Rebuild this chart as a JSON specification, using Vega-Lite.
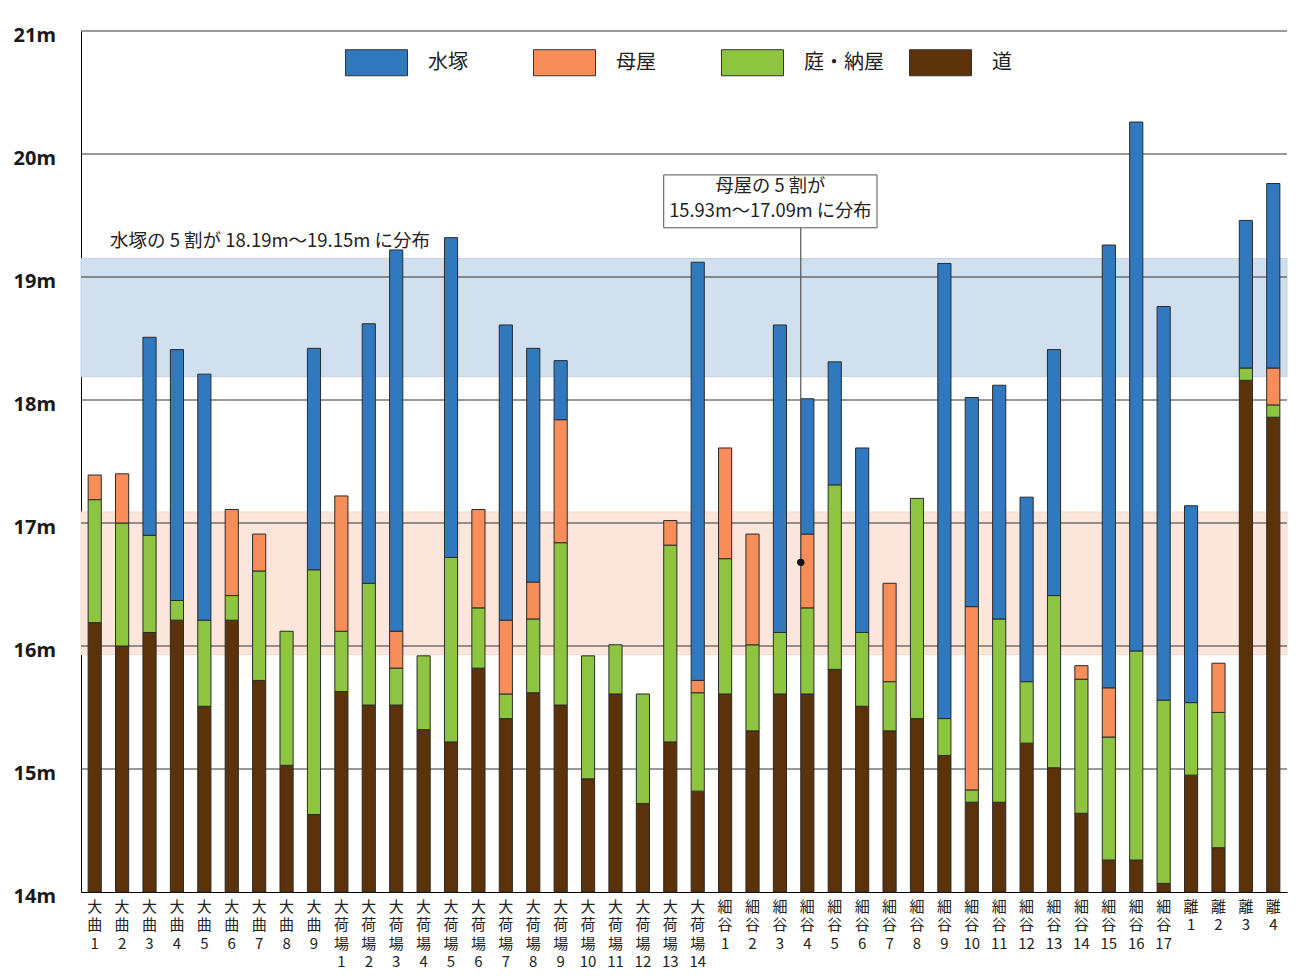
{
  "$schema": "https://vega.github.io/schema/vega-lite/v6.json",
  "width": 1206,
  "height": 861,
  "autosize": {"type": "none"},
  "padding": {"left": 81, "top": 31, "right": 10, "bottom": 84},
  "background": "white",
  "config": {"view": {"stroke": null}, "font": "Noto Sans CJK JP"},
  "datasets": {
    "segments": [
      {"n": "大\n曲\n1", "p": "道", "lo": 14, "hi": 16.19},
      {"n": "大\n曲\n1", "p": "庭・納屋", "lo": 16.19, "hi": 17.19},
      {"n": "大\n曲\n1", "p": "母屋", "lo": 17.19, "hi": 17.39},
      {"n": "大\n曲\n2", "p": "道", "lo": 14, "hi": 16.0},
      {"n": "大\n曲\n2", "p": "庭・納屋", "lo": 16.0, "hi": 17.0},
      {"n": "大\n曲\n2", "p": "母屋", "lo": 17.0, "hi": 17.4},
      {"n": "大\n曲\n3", "p": "道", "lo": 14, "hi": 16.11},
      {"n": "大\n曲\n3", "p": "庭・納屋", "lo": 16.11, "hi": 16.9},
      {"n": "大\n曲\n3", "p": "水塚", "lo": 16.9, "hi": 18.51},
      {"n": "大\n曲\n4", "p": "道", "lo": 14, "hi": 16.21},
      {"n": "大\n曲\n4", "p": "庭・納屋", "lo": 16.21, "hi": 16.37},
      {"n": "大\n曲\n4", "p": "水塚", "lo": 16.37, "hi": 18.41},
      {"n": "大\n曲\n5", "p": "道", "lo": 14, "hi": 15.51},
      {"n": "大\n曲\n5", "p": "庭・納屋", "lo": 15.51, "hi": 16.21},
      {"n": "大\n曲\n5", "p": "水塚", "lo": 16.21, "hi": 18.21},
      {"n": "大\n曲\n6", "p": "道", "lo": 14, "hi": 16.21},
      {"n": "大\n曲\n6", "p": "庭・納屋", "lo": 16.21, "hi": 16.41},
      {"n": "大\n曲\n6", "p": "母屋", "lo": 16.41, "hi": 17.11},
      {"n": "大\n曲\n7", "p": "道", "lo": 14, "hi": 15.72},
      {"n": "大\n曲\n7", "p": "庭・納屋", "lo": 15.72, "hi": 16.61},
      {"n": "大\n曲\n7", "p": "母屋", "lo": 16.61, "hi": 16.91},
      {"n": "大\n曲\n8", "p": "道", "lo": 14, "hi": 15.03},
      {"n": "大\n曲\n8", "p": "庭・納屋", "lo": 15.03, "hi": 16.12},
      {"n": "大\n曲\n9", "p": "道", "lo": 14, "hi": 14.63},
      {"n": "大\n曲\n9", "p": "庭・納屋", "lo": 14.63, "hi": 16.62},
      {"n": "大\n曲\n9", "p": "水塚", "lo": 16.62, "hi": 18.42},
      {"n": "大\n荷\n場\n1", "p": "道", "lo": 14, "hi": 15.63},
      {"n": "大\n荷\n場\n1", "p": "庭・納屋", "lo": 15.63, "hi": 16.12},
      {"n": "大\n荷\n場\n1", "p": "母屋", "lo": 16.12, "hi": 17.22},
      {"n": "大\n荷\n場\n2", "p": "道", "lo": 14, "hi": 15.52},
      {"n": "大\n荷\n場\n2", "p": "庭・納屋", "lo": 15.52, "hi": 16.51},
      {"n": "大\n荷\n場\n2", "p": "水塚", "lo": 16.51, "hi": 18.62},
      {"n": "大\n荷\n場\n3", "p": "道", "lo": 14, "hi": 15.52},
      {"n": "大\n荷\n場\n3", "p": "庭・納屋", "lo": 15.52, "hi": 15.82},
      {"n": "大\n荷\n場\n3", "p": "母屋", "lo": 15.82, "hi": 16.12},
      {"n": "大\n荷\n場\n3", "p": "水塚", "lo": 16.12, "hi": 19.22},
      {"n": "大\n荷\n場\n4", "p": "道", "lo": 14, "hi": 15.32},
      {"n": "大\n荷\n場\n4", "p": "庭・納屋", "lo": 15.32, "hi": 15.92},
      {"n": "大\n荷\n場\n5", "p": "道", "lo": 14, "hi": 15.22},
      {"n": "大\n荷\n場\n5", "p": "庭・納屋", "lo": 15.22, "hi": 16.72},
      {"n": "大\n荷\n場\n5", "p": "水塚", "lo": 16.72, "hi": 19.32},
      {"n": "大\n荷\n場\n6", "p": "道", "lo": 14, "hi": 15.82},
      {"n": "大\n荷\n場\n6", "p": "庭・納屋", "lo": 15.82, "hi": 16.31},
      {"n": "大\n荷\n場\n6", "p": "母屋", "lo": 16.31, "hi": 17.11},
      {"n": "大\n荷\n場\n7", "p": "道", "lo": 14, "hi": 15.41},
      {"n": "大\n荷\n場\n7", "p": "庭・納屋", "lo": 15.41, "hi": 15.61},
      {"n": "大\n荷\n場\n7", "p": "母屋", "lo": 15.61, "hi": 16.21},
      {"n": "大\n荷\n場\n7", "p": "水塚", "lo": 16.21, "hi": 18.61},
      {"n": "大\n荷\n場\n8", "p": "道", "lo": 14, "hi": 15.62},
      {"n": "大\n荷\n場\n8", "p": "庭・納屋", "lo": 15.62, "hi": 16.22},
      {"n": "大\n荷\n場\n8", "p": "母屋", "lo": 16.22, "hi": 16.52},
      {"n": "大\n荷\n場\n8", "p": "水塚", "lo": 16.52, "hi": 18.42},
      {"n": "大\n荷\n場\n9", "p": "道", "lo": 14, "hi": 15.52},
      {"n": "大\n荷\n場\n9", "p": "庭・納屋", "lo": 15.52, "hi": 16.84},
      {"n": "大\n荷\n場\n9", "p": "母屋", "lo": 16.84, "hi": 17.84},
      {"n": "大\n荷\n場\n9", "p": "水塚", "lo": 17.84, "hi": 18.32},
      {"n": "大\n荷\n場\n10", "p": "道", "lo": 14, "hi": 14.92},
      {"n": "大\n荷\n場\n10", "p": "庭・納屋", "lo": 14.92, "hi": 15.92},
      {"n": "大\n荷\n場\n11", "p": "道", "lo": 14, "hi": 15.61},
      {"n": "大\n荷\n場\n11", "p": "庭・納屋", "lo": 15.61, "hi": 16.01},
      {"n": "大\n荷\n場\n12", "p": "道", "lo": 14, "hi": 14.72},
      {"n": "大\n荷\n場\n12", "p": "庭・納屋", "lo": 14.72, "hi": 15.61},
      {"n": "大\n荷\n場\n13", "p": "道", "lo": 14, "hi": 15.22},
      {"n": "大\n荷\n場\n13", "p": "庭・納屋", "lo": 15.22, "hi": 16.82},
      {"n": "大\n荷\n場\n13", "p": "母屋", "lo": 16.82, "hi": 17.02},
      {"n": "大\n荷\n場\n14", "p": "道", "lo": 14, "hi": 14.82},
      {"n": "大\n荷\n場\n14", "p": "庭・納屋", "lo": 14.82, "hi": 15.62},
      {"n": "大\n荷\n場\n14", "p": "母屋", "lo": 15.62, "hi": 15.72},
      {"n": "大\n荷\n場\n14", "p": "水塚", "lo": 15.72, "hi": 19.12},
      {"n": "細\n谷\n1", "p": "道", "lo": 14, "hi": 15.61},
      {"n": "細\n谷\n1", "p": "庭・納屋", "lo": 15.61, "hi": 16.71},
      {"n": "細\n谷\n1", "p": "母屋", "lo": 16.71, "hi": 17.61},
      {"n": "細\n谷\n2", "p": "道", "lo": 14, "hi": 15.31},
      {"n": "細\n谷\n2", "p": "庭・納屋", "lo": 15.31, "hi": 16.01},
      {"n": "細\n谷\n2", "p": "母屋", "lo": 16.01, "hi": 16.91},
      {"n": "細\n谷\n3", "p": "道", "lo": 14, "hi": 15.61},
      {"n": "細\n谷\n3", "p": "庭・納屋", "lo": 15.61, "hi": 16.11},
      {"n": "細\n谷\n3", "p": "水塚", "lo": 16.11, "hi": 18.61},
      {"n": "細\n谷\n4", "p": "道", "lo": 14, "hi": 15.61},
      {"n": "細\n谷\n4", "p": "庭・納屋", "lo": 15.61, "hi": 16.31},
      {"n": "細\n谷\n4", "p": "母屋", "lo": 16.31, "hi": 16.91},
      {"n": "細\n谷\n4", "p": "水塚", "lo": 16.91, "hi": 18.01},
      {"n": "細\n谷\n5", "p": "道", "lo": 14, "hi": 15.81},
      {"n": "細\n谷\n5", "p": "庭・納屋", "lo": 15.81, "hi": 17.31},
      {"n": "細\n谷\n5", "p": "水塚", "lo": 17.31, "hi": 18.31},
      {"n": "細\n谷\n6", "p": "道", "lo": 14, "hi": 15.51},
      {"n": "細\n谷\n6", "p": "庭・納屋", "lo": 15.51, "hi": 16.11},
      {"n": "細\n谷\n6", "p": "水塚", "lo": 16.11, "hi": 17.61},
      {"n": "細\n谷\n7", "p": "道", "lo": 14, "hi": 15.31},
      {"n": "細\n谷\n7", "p": "庭・納屋", "lo": 15.31, "hi": 15.71},
      {"n": "細\n谷\n7", "p": "母屋", "lo": 15.71, "hi": 16.51},
      {"n": "細\n谷\n8", "p": "道", "lo": 14, "hi": 15.41},
      {"n": "細\n谷\n8", "p": "庭・納屋", "lo": 15.41, "hi": 17.2},
      {"n": "細\n谷\n9", "p": "道", "lo": 14, "hi": 15.11},
      {"n": "細\n谷\n9", "p": "庭・納屋", "lo": 15.11, "hi": 15.41},
      {"n": "細\n谷\n9", "p": "水塚", "lo": 15.41, "hi": 19.11},
      {"n": "細\n谷\n10", "p": "道", "lo": 14, "hi": 14.73},
      {"n": "細\n谷\n10", "p": "庭・納屋", "lo": 14.73, "hi": 14.83},
      {"n": "細\n谷\n10", "p": "母屋", "lo": 14.83, "hi": 16.32},
      {"n": "細\n谷\n10", "p": "水塚", "lo": 16.32, "hi": 18.02},
      {"n": "細\n谷\n11", "p": "道", "lo": 14, "hi": 14.73},
      {"n": "細\n谷\n11", "p": "庭・納屋", "lo": 14.73, "hi": 16.22},
      {"n": "細\n谷\n11", "p": "水塚", "lo": 16.22, "hi": 18.12},
      {"n": "細\n谷\n12", "p": "道", "lo": 14, "hi": 15.21},
      {"n": "細\n谷\n12", "p": "庭・納屋", "lo": 15.21, "hi": 15.71},
      {"n": "細\n谷\n12", "p": "水塚", "lo": 15.71, "hi": 17.21},
      {"n": "細\n谷\n13", "p": "道", "lo": 14, "hi": 15.01},
      {"n": "細\n谷\n13", "p": "庭・納屋", "lo": 15.01, "hi": 16.41},
      {"n": "細\n谷\n13", "p": "水塚", "lo": 16.41, "hi": 18.41},
      {"n": "細\n谷\n14", "p": "道", "lo": 14, "hi": 14.64},
      {"n": "細\n谷\n14", "p": "庭・納屋", "lo": 14.64, "hi": 15.73},
      {"n": "細\n谷\n14", "p": "母屋", "lo": 15.73, "hi": 15.84},
      {"n": "細\n谷\n15", "p": "道", "lo": 14, "hi": 14.26},
      {"n": "細\n谷\n15", "p": "庭・納屋", "lo": 14.26, "hi": 15.26},
      {"n": "細\n谷\n15", "p": "母屋", "lo": 15.26, "hi": 15.66},
      {"n": "細\n谷\n15", "p": "水塚", "lo": 15.66, "hi": 19.26},
      {"n": "細\n谷\n16", "p": "道", "lo": 14, "hi": 14.26},
      {"n": "細\n谷\n16", "p": "庭・納屋", "lo": 14.26, "hi": 15.96},
      {"n": "細\n谷\n16", "p": "水塚", "lo": 15.96, "hi": 20.26},
      {"n": "細\n谷\n17", "p": "道", "lo": 14, "hi": 14.07},
      {"n": "細\n谷\n17", "p": "庭・納屋", "lo": 14.07, "hi": 15.56},
      {"n": "細\n谷\n17", "p": "水塚", "lo": 15.56, "hi": 18.76},
      {"n": "離\n1", "p": "道", "lo": 14, "hi": 14.95},
      {"n": "離\n1", "p": "庭・納屋", "lo": 14.95, "hi": 15.54},
      {"n": "離\n1", "p": "水塚", "lo": 15.54, "hi": 17.14},
      {"n": "離\n2", "p": "道", "lo": 14, "hi": 14.36},
      {"n": "離\n2", "p": "庭・納屋", "lo": 14.36, "hi": 15.46},
      {"n": "離\n2", "p": "母屋", "lo": 15.46, "hi": 15.86},
      {"n": "離\n3", "p": "道", "lo": 14, "hi": 18.16},
      {"n": "離\n3", "p": "庭・納屋", "lo": 18.16, "hi": 18.26},
      {"n": "離\n3", "p": "水塚", "lo": 18.26, "hi": 19.46},
      {"n": "離\n4", "p": "道", "lo": 14, "hi": 17.86},
      {"n": "離\n4", "p": "庭・納屋", "lo": 17.86, "hi": 17.96},
      {"n": "離\n4", "p": "母屋", "lo": 17.96, "hi": 18.26},
      {"n": "離\n4", "p": "水塚", "lo": 18.26, "hi": 19.76}
    ]
  },
  "layer": [
    {
      "data": {"values": [{"band": "水塚", "lo": 18.19, "hi": 19.15}]},
      "mark": {"type": "rect", "fill": "#d1e0ef", "stroke": "#c3d2e2", "strokeWidth": 1},
      "encoding": {
        "y": {"field": "hi", "type": "quantitative", "scale": {"domain": [14, 21], "nice": false, "zero": false}},
        "y2": {"field": "lo"}
      }
    },
    {
      "data": {"values": [{"band": "母屋", "lo": 15.93, "hi": 17.09}]},
      "mark": {"type": "rect", "fill": "#fce6dc", "stroke": "#f0dcd2", "strokeWidth": 1},
      "encoding": {
        "y": {"field": "hi", "type": "quantitative"},
        "y2": {"field": "lo"}
      }
    },
    {
      "data": {"values": [{"m": 15}, {"m": 16}, {"m": 17}, {"m": 18}, {"m": 19}, {"m": 20}, {"m": 21}]},
      "mark": {"type": "rule", "color": "#333333", "strokeWidth": 1},
      "encoding": {
        "y": {"field": "m", "type": "quantitative"}
      }
    },
    {
      "data": {"name": "segments"},
      "mark": {"type": "bar", "stroke": "#2b2b2b", "strokeWidth": 1},
      "encoding": {
        "x": {
          "field": "n", "type": "nominal", "sort": null,
          "scale": {
            "domain": ["大\n曲\n1", "大\n曲\n2", "大\n曲\n3", "大\n曲\n4", "大\n曲\n5", "大\n曲\n6", "大\n曲\n7", "大\n曲\n8", "大\n曲\n9",
              "大\n荷\n場\n1", "大\n荷\n場\n2", "大\n荷\n場\n3", "大\n荷\n場\n4", "大\n荷\n場\n5", "大\n荷\n場\n6", "大\n荷\n場\n7", "大\n荷\n場\n8", "大\n荷\n場\n9", "大\n荷\n場\n10", "大\n荷\n場\n11", "大\n荷\n場\n12", "大\n荷\n場\n13", "大\n荷\n場\n14",
              "細\n谷\n1", "細\n谷\n2", "細\n谷\n3", "細\n谷\n4", "細\n谷\n5", "細\n谷\n6", "細\n谷\n7", "細\n谷\n8", "細\n谷\n9", "細\n谷\n10", "細\n谷\n11", "細\n谷\n12", "細\n谷\n13", "細\n谷\n14", "細\n谷\n15", "細\n谷\n16", "細\n谷\n17",
              "離\n1", "離\n2", "離\n3", "離\n4"],
            "paddingInner": 0.52, "paddingOuter": 0.26
          },
          "axis": {
            "title": null, "ticks": false, "grid": false, "domainColor": "#000000", "domainWidth": 1,
            "labelExpr": "split(datum.value, '\\n')", "labelAngle": 0,
            "labelFont": "Noto Sans CJK JP", "labelFontSize": 15, "labelLineHeight": 18.5,
            "labelColor": "#222222", "labelPadding": 7, "labelBaseline": "top",
            "labelOverlap": false, "labelBound": false
          }
        },
        "y": {
          "field": "hi", "type": "quantitative",
          "axis": {
            "title": null, "values": [14, 15, 16, 17, 18, 19, 20, 21], "grid": false, "ticks": false,
            "domainColor": "#000000", "domainWidth": 1,
            "labelExpr": "datum.value + 'm'", "labelFont": "Noto Sans", "labelFontWeight": "bold",
            "labelFontSize": 20, "labelColor": "#1a1a1a", "labelAlign": "left", "labelPadding": 68,
            "labelOffset": 4, "labelBaseline": "middle"
          }
        },
        "y2": {"field": "lo"},
        "color": {
          "field": "p", "type": "nominal",
          "scale": {"domain": ["水塚", "母屋", "庭・納屋", "道"], "range": ["#3079bf", "#f78d58", "#8dc540", "#5b3209"]},
          "legend": {
            "title": null, "orient": "none", "legendX": 264, "legendY": 0, "direction": "horizontal",
            "columns": 4, "gridAlign": "all",
            "symbolType": "M-1,-0.42H1V0.42H-1Z", "symbolSize": 3844, "symbolStrokeColor": "#333333",
            "symbolStrokeWidth": 1, "symbolOpacity": 1,
            "labelFont": "Noto Sans CJK JP", "labelFontSize": 20, "labelColor": "#222222",
            "labelOffset": 20, "columnPadding": 23, "padding": 0
          }
        }
      }
    },
    {
      "data": {"values": [{"label": "水塚の 5 割が 18.19m〜19.15m に分布", "at": "大\n曲\n2", "v": 19.29}]},
      "mark": {"type": "text", "align": "left", "baseline": "middle", "fontSize": 18.5, "color": "#222222", "dx": -5.5},
      "encoding": {
        "x": {"field": "at", "type": "nominal", "bandPosition": 0},
        "y": {"field": "v", "type": "quantitative"},
        "text": {"field": "label"}
      }
    },
    {
      "data": {"values": [{"from": "大\n荷\n場\n13", "to": "細\n谷\n7", "top": 19.83, "bottom": 19.4}]},
      "mark": {"type": "rect", "fill": "white", "stroke": "#555555", "strokeWidth": 1, "x2Offset": -6},
      "encoding": {
        "x": {"field": "from", "type": "nominal", "bandPosition": 0},
        "x2": {"field": "to", "bandPosition": 0},
        "y": {"field": "top", "type": "quantitative"},
        "y2": {"field": "bottom"}
      }
    },
    {
      "data": {"values": [{"label": "母屋の 5 割が\n15.93m〜17.09m に分布", "at": "細\n谷\n3", "v": 19.728}]},
      "mark": {"type": "text", "align": "center", "baseline": "middle", "lineBreak": "\n", "lineHeight": 25, "fontSize": 18.3, "color": "#222222", "dx": -9.5},
      "encoding": {
        "x": {"field": "at", "type": "nominal"},
        "y": {"field": "v", "type": "quantitative"},
        "text": {"field": "label"}
      }
    },
    {
      "data": {"values": [{"at": "細\n谷\n4", "top": 19.4, "bottom": 16.68}]},
      "mark": {"type": "rule", "color": "#555555", "strokeWidth": 1.2},
      "encoding": {
        "x": {"field": "at", "type": "nominal", "bandPosition": 0},
        "y": {"field": "top", "type": "quantitative"},
        "y2": {"field": "bottom"}
      }
    },
    {
      "data": {"values": [{"at": "細\n谷\n4", "v": 16.68}]},
      "mark": {"type": "point", "filled": true, "color": "#111111", "size": 55, "opacity": 1},
      "encoding": {
        "x": {"field": "at", "type": "nominal", "bandPosition": 0},
        "y": {"field": "v", "type": "quantitative"}
      }
    }
  ]
}
